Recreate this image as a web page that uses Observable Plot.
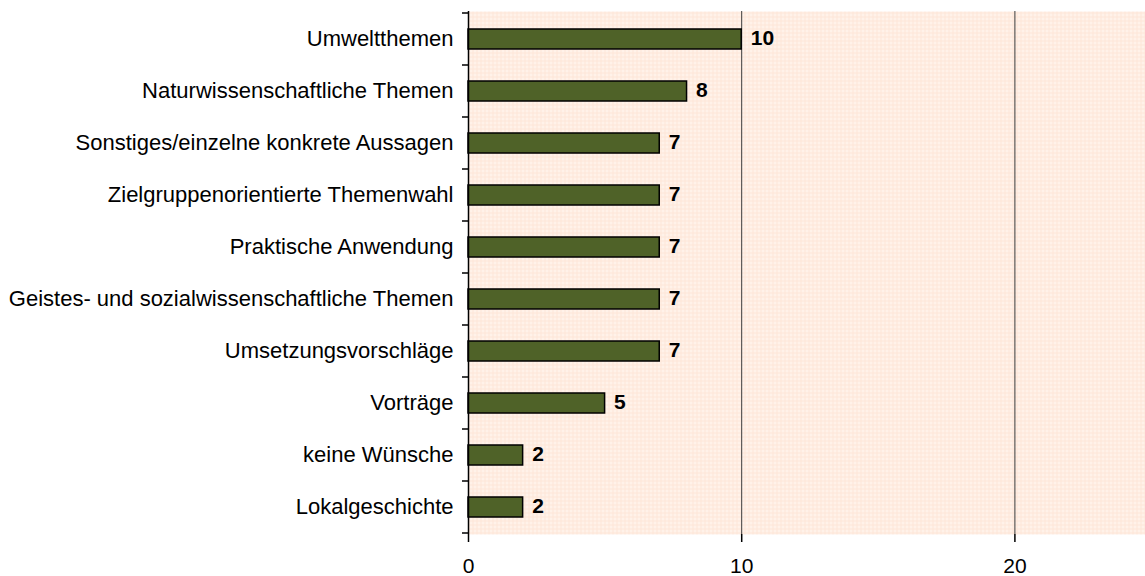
<!DOCTYPE html>
<html>
<head>
<meta charset="utf-8">
<script src="https://cdn.jsdelivr.net/npm/d3@7"></script>
<script src="https://cdn.jsdelivr.net/npm/@observablehq/plot@0.6"></script>
<style>
  html, body { margin: 0; padding: 0; background: #fff; overflow: hidden; }
  #chart { width: 1145px; height: 576px; overflow: hidden; }
  #chart svg { display: block; max-width: none !important; }
</style>
</head>
<body>
<div id="chart"></div>
<script>
const categories = [
  "Umweltthemen",
  "Naturwissenschaftliche Themen",
  "Sonstiges/einzelne konkrete Aussagen",
  "Zielgruppenorientierte Themenwahl",
  "Praktische Anwendung",
  "Geistes- und sozialwissenschaftliche Themen",
  "Umsetzungsvorschläge",
  "Vorträge",
  "keine Wünsche",
  "Lokalgeschichte"
];
const values = [10, 8, 7, 7, 7, 7, 7, 5, 2, 2];
const xTicks = [0, 10, 20];
const xMax = 25;

const data = categories.map((c, i) => ({category: c, value: values[i]}));

const FONT = "'Liberation Sans', Arial, sans-serif";

const plot = Plot.plot({
  width: 1151,
  height: 576,
  marginLeft: 468,
  marginRight: 0,
  marginTop: 11,
  marginBottom: 42,
  style: {fontFamily: FONT, fontSize: "22px", color: "#000", background: "transparent", maxWidth: "none"},
  x: {domain: [0, xMax], ticks: xTicks, label: null},
  y: {domain: categories, padding: 0, label: null},
  marks: [
    Plot.frame({fill: "url(#bgpat)", stroke: null}),
    Plot.ruleY([0], {frameAnchor: "top", stroke: "#c4c4c4", strokeWidth: 2}),
    Plot.ruleX(xTicks.filter(d => d > 0), {stroke: "#3a3a3a", strokeWidth: 1}),
    Plot.barX(data, {
      x: "value", y: "category",
      fill: "#4f6228", stroke: "#000", strokeWidth: 1.5,
      insetTop: 16, insetBottom: 16
    }),
    Plot.text(data, {
      x: "value", y: "category", text: d => String(d.value),
      textAnchor: "start", dx: 9, dy: -1, fontWeight: "bold", fontSize: 21, fill: "#000"
    }),
    Plot.axisX({ticks: xTicks, tickSize: 8, tickPadding: 16, fontSize: 21, stroke: "#000", strokeWidth: 1.5, label: null}),
    Plot.axisY({tickSize: 0, tickPadding: 15, dy: -1, fontSize: 22, label: null}),
    Plot.ruleY([0], {frameAnchor: "bottom", stroke: "#000", strokeWidth: 2}),
    Plot.ruleX([0], {stroke: "#000", strokeWidth: 1.5})
  ]
});

// Background hatch pattern
const svg = d3.select(plot);
const defs = svg.insert("defs", ":first-child");
const pat = defs.append("pattern")
  .attr("id", "bgpat").attr("patternUnits", "userSpaceOnUse")
  .attr("width", 4).attr("height", 4);
pat.append("rect").attr("width", 4).attr("height", 4).attr("fill", "#fff2e9");
pat.append("rect").attr("width", 4).attr("height", 1).attr("fill", "#fde6d8");
pat.append("rect").attr("width", 1).attr("height", 4).attr("fill", "#fde6d8");

// Y ticks at band boundaries
const ys = plot.scale("y");
const bw = ys.bandwidth;
const bounds = categories.map(c => ys.apply(c)).concat([ys.apply(categories[categories.length - 1]) + bw]);
const xs = plot.scale("x");
const x0 = xs.apply(0);
svg.append("g").selectAll("line").data(bounds).join("line")
  .attr("x1", x0 - 6).attr("x2", x0)
  .attr("y1", d => d).attr("y2", d => d)
  .attr("stroke", "#000").attr("stroke-width", 1.5);

document.getElementById("chart").append(plot);
</script>
</body>
</html>
